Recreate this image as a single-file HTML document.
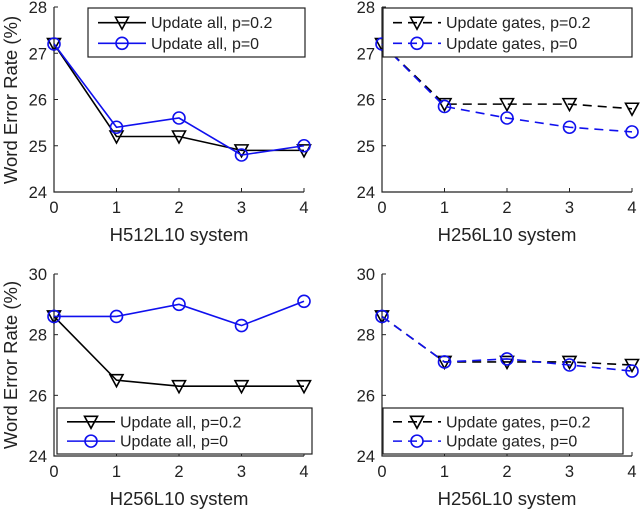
<!DOCTYPE html>
<html><head><meta charset="utf-8"><style>
body{margin:0;background:#fff}
svg text{font-family:"Liberation Sans",sans-serif;fill:#222}
</style></head><body>
<svg id="c" width="640" height="511" viewBox="0 0 640 511"></svg>
<script>
const xCats=[0,1,2,3,4];
const tl_black=[27.2,25.2,25.2,24.9,24.9];
const tl_blue=[27.2,25.4,25.6,24.8,25.0];
const tr_black=[27.2,25.9,25.9,25.9,25.8];
const tr_blue=[27.2,25.85,25.6,25.4,25.3];
const bl_black=[28.6,26.5,26.3,26.3,26.3];
const bl_blue=[28.6,28.6,29.0,28.3,29.1];
const br_black=[28.6,27.1,27.1,27.1,27.0];
const br_blue=[28.6,27.1,27.2,27.0,26.8];
const topTicks=[24,25,26,27,28];
const botTicks=[24,26,28,30];
const xlabels=["H512L10 system","H256L10 system","H256L10 system","H256L10 system"];
const svg=document.getElementById('c');
const NS='http://www.w3.org/2000/svg';
function mk(t,a,p){const e=document.createElementNS(NS,t);for(const k in a)e.setAttribute(k,a[k]);(p||svg).appendChild(e);return e;}
function panel(name,x0,x1,yTop,yBot,vmin,vmax,ticks,xlab,black,blue,dashed,leg,legLabels){
 const g=mk('g',{});
 
 
 const sx=v=>x0+(v-0)*(x1-x0)/4, sy=v=>yBot-(v-vmin)*(yBot-yTop)/(vmax-vmin);
 const ax=mk('path',{d:`M${x0} ${yTop}V${yBot}H${x1}`,stroke:'#222',fill:'none','stroke-width':1.2},g);
 
 ticks.forEach(t=>{mk('line',{x1:x0,x2:x0+4,y1:sy(t),y2:sy(t),stroke:'#222'},g);
  const tx=mk('text',{x:x0-7,y:sy(t)+6,'text-anchor':'end','font-size':16.5},g);tx.textContent=t;
  });
 xCats.forEach(c=>{mk('line',{x1:sx(c),x2:sx(c),y1:yBot,y2:yBot-4,stroke:'#222'},g);
  const tx=mk('text',{x:sx(c),y:yBot+21,'text-anchor':'middle','font-size':16.5},g);tx.textContent=c;
  });
 const xl=mk('text',{x:(x0+x1)/2,y:yBot+49,'text-anchor':'middle','font-size':18.5},g);xl.textContent=xlab;
 
 const da=dashed?'9,6':'';
 [[black,'#000','tri'],[blue,'#1010ee','circ']].forEach(([d,col,m],si)=>{
  const pl=mk('polyline',{points:d.map((v,i)=>sx(xCats[i])+','+sy(v)).join(' '),fill:'none',stroke:col,'stroke-width':1.6,'stroke-dasharray':da},g);
  
  d.forEach((v,i)=>marker(g,m,sx(xCats[i]),sy(v),col));
 });
 const lb=mk('rect',{x:leg[0],y:leg[1],width:leg[2],height:leg[3],fill:'#fff',stroke:'#222','stroke-width':1.2},g);
 
 [['#000','tri'],['#1010ee','circ']].forEach(([col,m],i)=>{
  const y=leg[1]+leg[3]*(i?0.72:0.3);
  mk('line',{x1:leg[0]+10,x2:leg[0]+58,y1:y,y2:y,stroke:col,'stroke-width':1.6,'stroke-dasharray':da},g);
  marker(g,m,leg[0]+34,y,col);
  const t=mk('text',{x:leg[0]+63,y:y+5.5,'font-size':16},g);t.textContent=legLabels[i];
  
 });
}
function marker(g,m,x,y,col){
 let e;
 if(m==='tri')e=mk('path',{d:`M${x-6.5} ${y-5.5}H${x+6.5}L${x} ${y+6.5}Z`,fill:'none',stroke:col,'stroke-width':1.6},g);
 else e=mk('circle',{cx:x,cy:y,r:6,fill:'none',stroke:col,'stroke-width':1.6},g);
 
}
panel('panel-top-left',54,304,7,192,24,28,topTicks,xlabels[0],tl_black,tl_blue,false,[88,8,217,49],['Update all, p=0.2','Update all, p=0']);
panel('panel-top-right',382,632,7,192,24,28,topTicks,xlabels[1],tr_black,tr_blue,true,[383,8,249,49],['Update gates, p=0.2','Update gates, p=0']);
panel('panel-bottom-left',54,304,274,456,24,30,botTicks,xlabels[2],bl_black,bl_blue,false,[57,408,255,46],['Update all, p=0.2','Update all, p=0']);
panel('panel-bottom-right',382,632,274,456,24,30,botTicks,xlabels[3],br_black,br_blue,true,[383,408,240,46],['Update gates, p=0.2','Update gates, p=0']);
[[100,'y-axis-title-top'],[365,'y-axis-title-bottom']].forEach(([cy,n])=>{
 const yl=mk('text',{x:0,y:0,'text-anchor':'middle','font-size':18.5,transform:`translate(17,${cy}) rotate(-90)`});
 yl.textContent='Word Error Rate (%)';
 
 
});
</script>
</body></html>
